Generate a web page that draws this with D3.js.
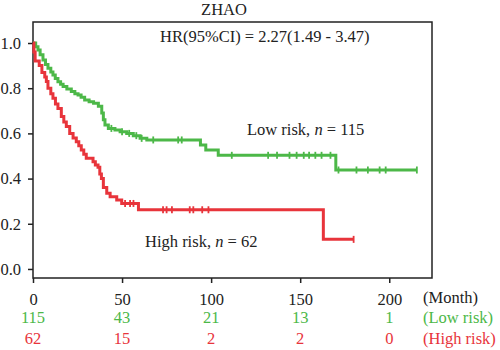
<!DOCTYPE html>
<html>
<head>
<meta charset="utf-8">
<script src="https://cdn.jsdelivr.net/npm/d3@7"></script>
<style>
  body { margin: 0; background: #fff; }
  text { font-family: "Liberation Serif", "DejaVu Serif", serif; }
</style>
</head>
<body>
<div id="chart"></div>
<script>
// Low risk group: event times (months) and survival after each step
const lowTime = [0, 1.5, 2.8, 4, 5.6, 7, 8.4, 10, 11.2, 12.5, 14, 15.5, 16.9, 19, 21.5, 23.5, 25.3, 27, 29, 31.5, 34, 36.7, 38.6, 39.5, 40.4, 42.3, 46, 48.9, 52.6, 56.3, 60.1, 63.9, 94, 97, 104, 170];
const lowSurv = [1, 0.983, 0.969, 0.948, 0.925, 0.905, 0.888, 0.872, 0.858, 0.843, 0.829, 0.818, 0.807, 0.796, 0.785, 0.776, 0.77, 0.76, 0.748, 0.74, 0.733, 0.72, 0.69, 0.66, 0.637, 0.622, 0.615, 0.607, 0.6, 0.59, 0.578, 0.571, 0.549, 0.527, 0.503, 0.438];
const lowCensor = [44, 50, 54, 58, 61, 67.5, 81.5, 83.5, 111.6, 132, 137, 144, 148, 152, 155, 158.5, 162, 167, 171.5, 181.6, 188, 194.6, 198, 215.5];

// High risk group
const highTime = [0, 0.5, 1.2, 3.5, 5, 6.6, 7.5, 8.4, 10, 11.2, 12.6, 14, 15.9, 17.3, 18.7, 20.6, 22.5, 24.3, 25.7, 27.1, 28.5, 29.9, 33.7, 35, 36.5, 37.5, 38.4, 39.5, 41.4, 43.3, 47, 49.8, 59.2, 163];
const highSurv = [1, 0.96, 0.92, 0.9, 0.87, 0.85, 0.83, 0.8, 0.775, 0.755, 0.73, 0.71, 0.675, 0.65, 0.63, 0.6, 0.58, 0.563, 0.545, 0.527, 0.508, 0.49, 0.475, 0.46, 0.45, 0.42, 0.4, 0.36, 0.335, 0.32, 0.305, 0.29, 0.262, 0.131];
const highCensor = [51.7, 54.5, 56.4, 73, 75, 78, 88, 90, 95, 98.5, 180];

// Axis ticks and numbers at risk
const xTicks = [0, 50, 100, 150, 200];
const yTicks = [0, 0.2, 0.4, 0.6, 0.8, 1.0];
const lowRisk = [115, 43, 21, 13, 1];
const highRisk = [62, 15, 2, 2, 0];

const green = "#4cb848";
const red = "#e8343b";
const fontSize = 16.5;

const width = 500, height = 350;
const plotLeft = 33, plotRight = 432, plotTop = 22, plotBottom = 278;

const svg = d3.select("#chart").append("svg")
    .attr("width", width)
    .attr("height", height);

const x = d3.scaleLinear().domain([0, 224]).range([plotLeft, plotRight]);
const y = d3.scaleLinear().domain([-0.04, 1.093]).range([plotBottom, plotTop]);

// Frame
svg.append("rect")
    .attr("x", plotLeft).attr("y", plotTop)
    .attr("width", plotRight - plotLeft).attr("height", plotBottom - plotTop)
    .attr("fill", "none").attr("stroke", "#222").attr("stroke-width", 1.5);

// Y axis
const yAxis = svg.append("g")
    .attr("transform", `translate(${plotLeft},0)`)
    .call(d3.axisLeft(y).tickValues(yTicks).tickFormat(d3.format(".1f")).tickSize(5).tickPadding(7));
yAxis.select(".domain").remove();
yAxis.selectAll("line").attr("stroke", "#222").attr("stroke-width", 1.5);
yAxis.selectAll("text").attr("font-size", fontSize).attr("fill", "#222")
    .style("font-family", "Liberation Serif, serif");

// X axis
const xAxis = svg.append("g")
    .attr("transform", `translate(0,${plotBottom})`)
    .call(d3.axisBottom(x).tickValues(xTicks).tickSize(5).tickPadding(10));
xAxis.select(".domain").remove();
xAxis.selectAll("line").attr("stroke", "#222").attr("stroke-width", 1.5);
xAxis.selectAll("text").attr("font-size", fontSize).attr("fill", "#222")
    .style("font-family", "Liberation Serif, serif");

// Step curves
const step = d3.line()
    .x(d => x(d[0]))
    .y(d => y(d[1]))
    .curve(d3.curveStepAfter);

function drawGroup(times, surv, censor, endTime, color) {
    const pts = times.map((t, i) => [t, surv[i]]);
    pts.push([endTime, surv[surv.length - 1]]);
    svg.append("path")
        .datum(pts)
        .attr("d", step)
        .attr("fill", "none")
        .attr("stroke", color)
        .attr("stroke-width", 3);
    const survAt = t => {
        let s = 1;
        times.forEach((tt, i) => { if (tt <= t) s = surv[i]; });
        return s;
    };
    svg.append("g").selectAll("line")
        .data(censor)
        .join("line")
        .attr("x1", d => x(d)).attr("x2", d => x(d))
        .attr("y1", d => y(survAt(d)) - 3.5)
        .attr("y2", d => y(survAt(d)) + 3.5)
        .attr("stroke", color)
        .attr("stroke-width", 1.8);
}

drawGroup(lowTime, lowSurv, lowCensor, d3.max(lowCensor), green);
drawGroup(highTime, highSurv, highCensor, d3.max(highCensor), red);

// Title and annotations
svg.append("text")
    .attr("x", 224).attr("y", 15)
    .attr("text-anchor", "middle")
    .attr("font-size", fontSize).attr("fill", "#222")
    .text("ZHAO");

svg.append("text")
    .attr("x", 160).attr("y", 41.5)
    .attr("font-size", fontSize).attr("fill", "#222")
    .text("HR(95%CI) = 2.27(1.49 - 3.47)");

const lowLab = svg.append("text")
    .attr("x", 247).attr("y", 135)
    .attr("font-size", fontSize).attr("fill", "#222");
lowLab.append("tspan").text("Low risk, ");
lowLab.append("tspan").attr("font-style", "italic").text("n");
lowLab.append("tspan").text(" = 115");

const highLab = svg.append("text")
    .attr("x", 145).attr("y", 247)
    .attr("font-size", fontSize).attr("fill", "#222");
highLab.append("tspan").text("High risk, ");
highLab.append("tspan").attr("font-style", "italic").text("n");
highLab.append("tspan").text(" = 62");

// Numbers at risk
svg.append("g").selectAll("text")
    .data(lowRisk)
    .join("text")
    .attr("x", (d, i) => x(xTicks[i]))
    .attr("y", 323)
    .attr("text-anchor", "middle")
    .attr("font-size", fontSize).attr("fill", green)
    .text(d => d);

svg.append("g").selectAll("text")
    .data(highRisk)
    .join("text")
    .attr("x", (d, i) => x(xTicks[i]))
    .attr("y", 344)
    .attr("text-anchor", "middle")
    .attr("font-size", fontSize).attr("fill", red)
    .text(d => d);

svg.append("text").attr("x", 423).attr("y", 303)
    .attr("font-size", fontSize).attr("fill", "#222").text("(Month)");
svg.append("text").attr("x", 423).attr("y", 323)
    .attr("font-size", fontSize).attr("fill", green).text("(Low risk)");
svg.append("text").attr("x", 423).attr("y", 344)
    .attr("font-size", fontSize).attr("fill", red).text("(High risk)");
</script>
</body>
</html>
